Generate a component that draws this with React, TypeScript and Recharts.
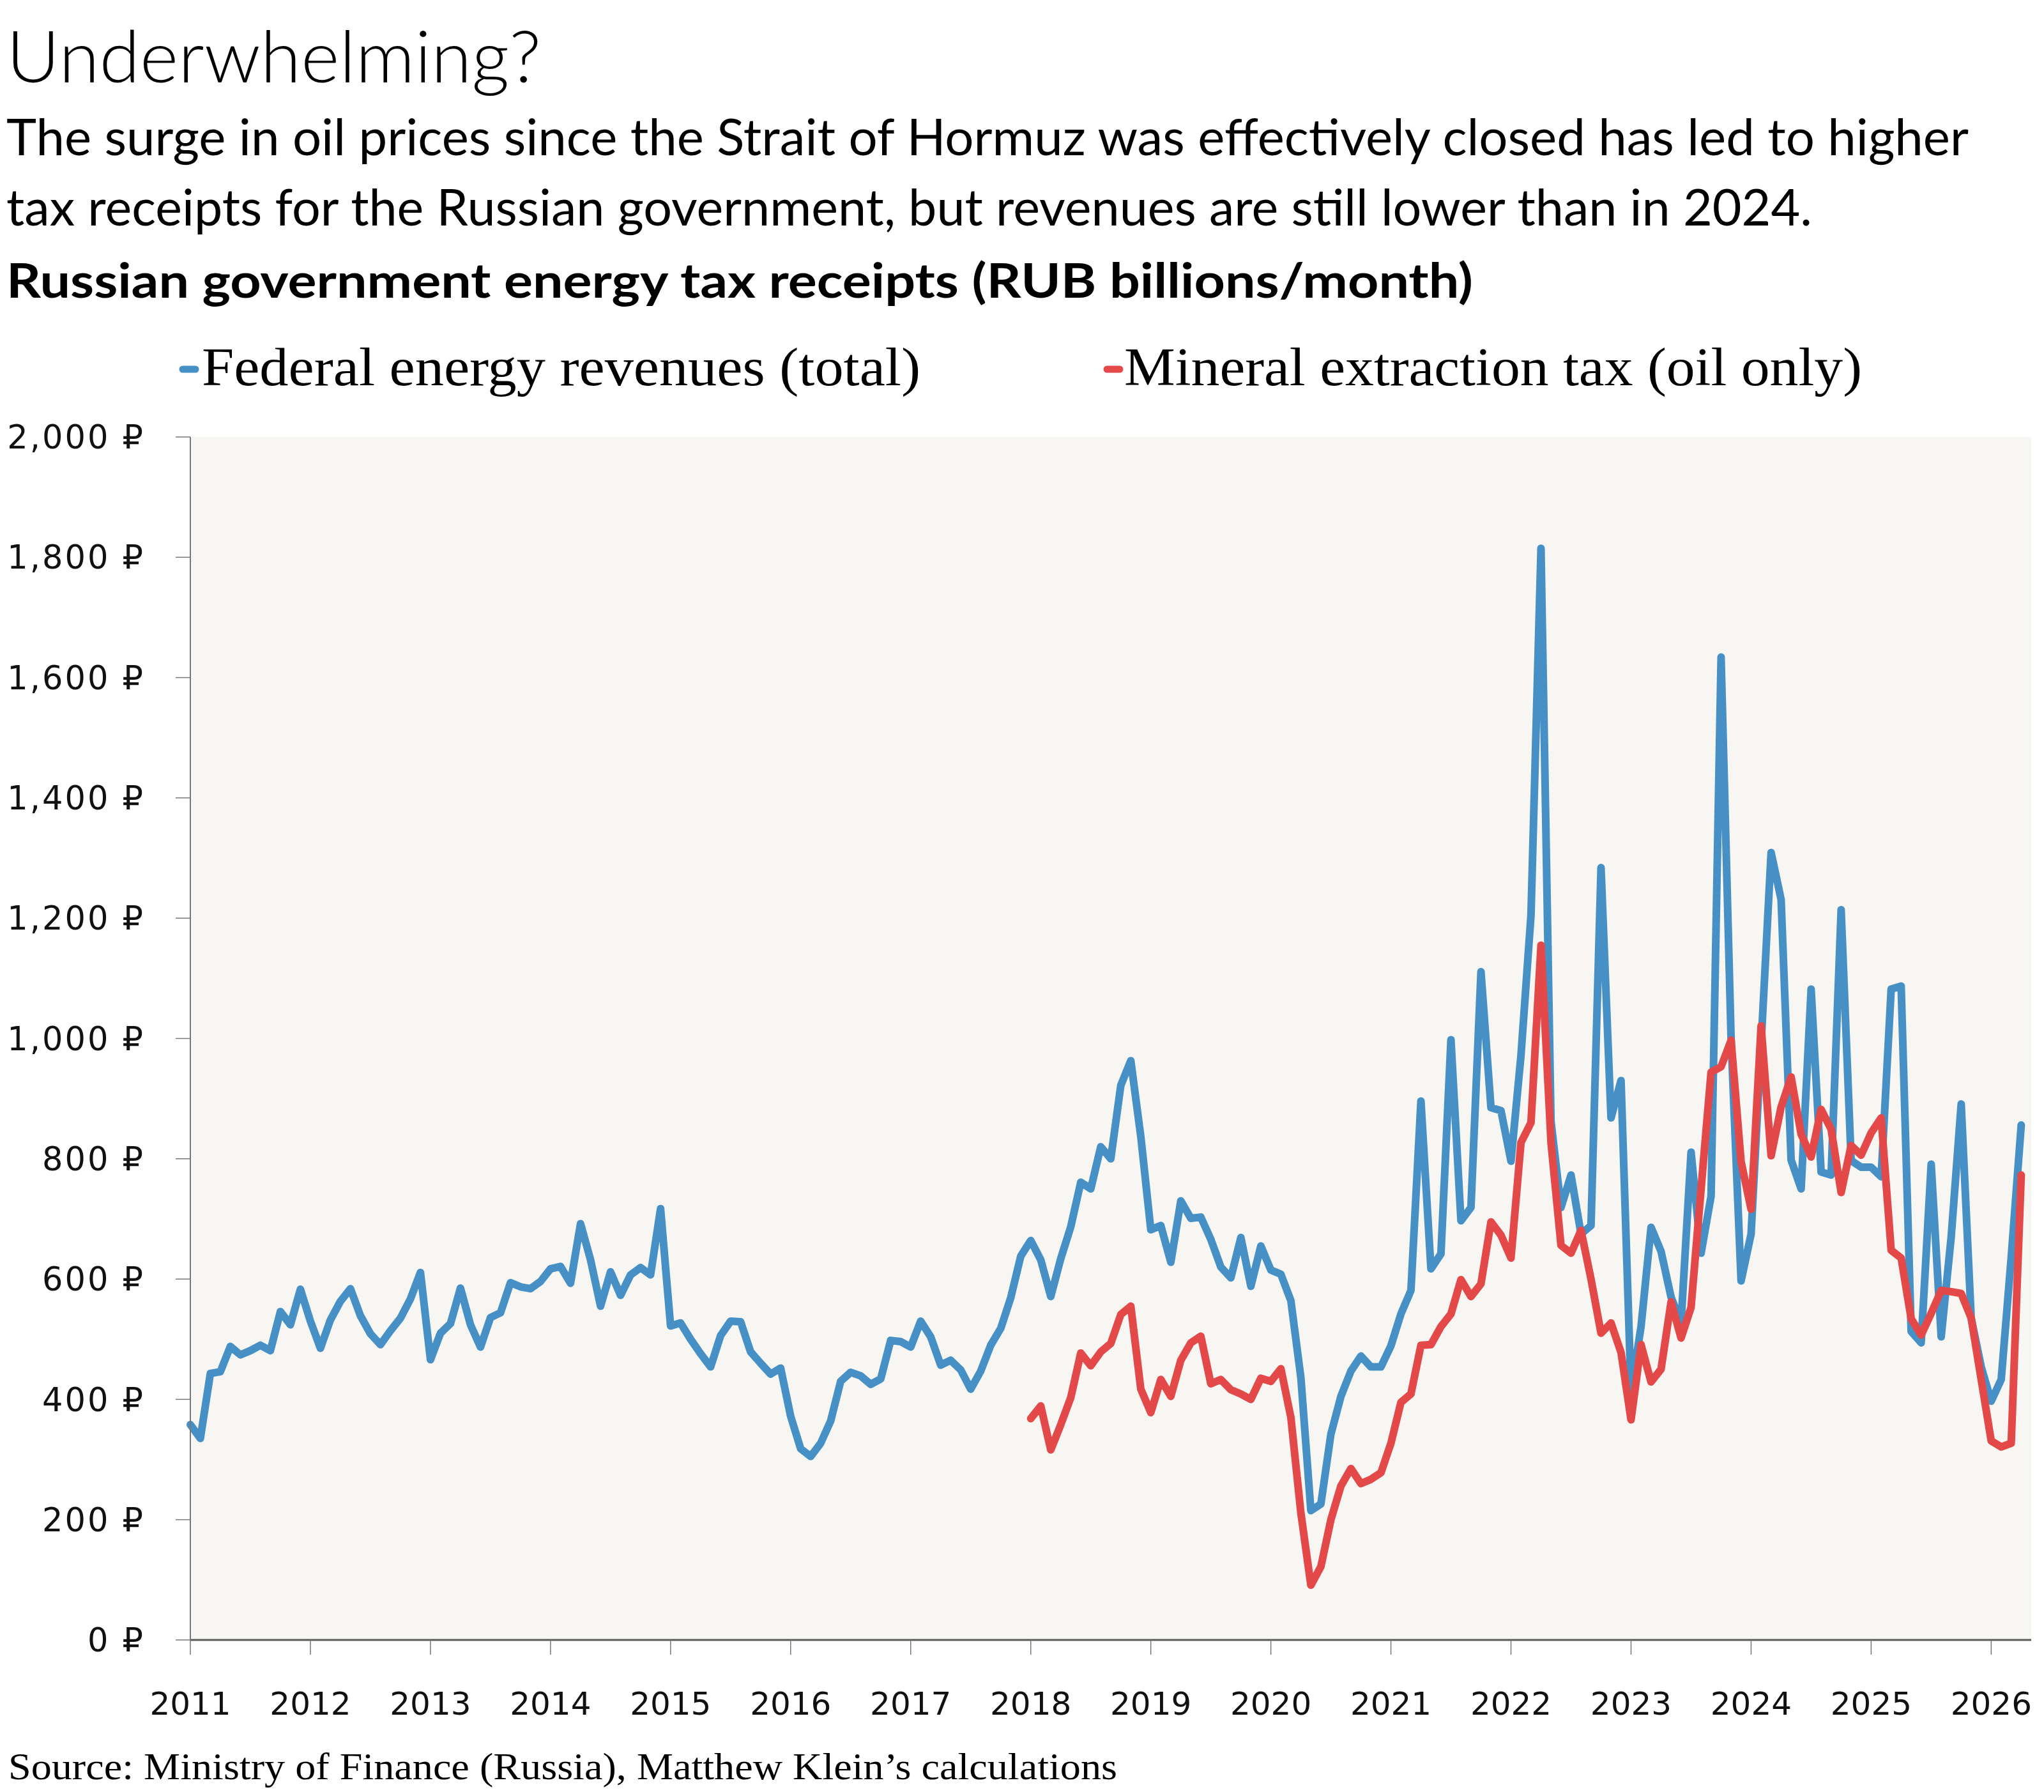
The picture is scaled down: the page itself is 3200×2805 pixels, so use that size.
import React from "react";
import { LineChart, Line, XAxis, YAxis, CartesianGrid } from "recharts";

// Monthly values, Jan 2011 onwards (RUB billions)
const FEDERAL = [
  358, 335, 443, 446, 488, 474, 481, 490, 481, 546, 524, 583, // 2011
  530, 485, 532, 563, 584, 539, 509, 491, 514, 535, 567, 611, // 2012
  466, 510, 526, 585, 524, 487, 536, 544, 594, 587, 584, 596, // 2013
  617, 621, 593, 692, 632, 555, 612, 573, 607, 619, 607, 717, // 2014
  522, 527, 500, 476, 454, 506, 530, 529, 479, 460, 442, 452, // 2015
  372, 318, 305, 327, 364, 430, 445, 439, 425, 434, 498, 496, // 2016
  487, 530, 504, 457, 465, 449, 417, 447, 490, 518, 569, 638, // 2017
  664, 632, 571, 634, 687, 761, 750, 820, 800, 922, 963, 837, // 2018
  682, 689, 628, 730, 701, 703, 666, 620, 602, 669, 588, 655, // 2019
  615, 608, 564, 436, 215, 226, 342, 405, 447, 472, 454, 454, // 2020
  489, 542, 581, 896, 617, 642, 998, 697, 719, 1111, 885, 880, // 2021
  796, 972, 1205, 1815, 862, 719, 773, 675, 689, 1284, 868, 930, // 2022
  413, 521, 686, 646, 570, 527, 811, 643, 738, 1634, 1000, 597, // 2023
  675, 990, 1309, 1231, 798, 750, 1082, 778, 773, 1214, 797, 786, // 2024
  786, 770, 1082, 1087, 513, 494, 791, 504, 670, 891, 535, 454, // 2025
  397, 433, 636, 856, // 2026
];

// Mineral extraction tax (oil only), starts Jan 2018
const MET_START = 84;
const MET = [
  368, 389, 316, 358, 403, 477, 456, 479, 493, 541, 555, 417, // 2018
  378, 433, 405, 465, 494, 505, 426, 433, 416, 409, 400, 435, // 2019
  430, 451, 370, 211, 91, 122, 200, 256, 285, 260, 267, 278, // 2020
  327, 395, 409, 490, 491, 521, 542, 599, 571, 592, 695, 673, // 2021
  635, 827, 860, 1155, 827, 656, 643, 681, 600, 510, 527, 478, // 2022
  366, 491, 429, 450, 562, 502, 553, 750, 944, 953, 997, 795, // 2023
  716, 1021, 805, 886, 936, 841, 803, 882, 849, 744, 822, 806, // 2024
  843, 868, 648, 635, 534, 507, 543, 581, 579, 576, 535, 433, // 2025
  331, 321, 327, 773, // 2026
];

const YEARS = ["2011", "2012", "2013", "2014", "2015", "2016", "2017", "2018",
  "2019", "2020", "2021", "2022", "2023", "2024", "2025", "2026"];
const Y_TICKS = [0, 200, 400, 600, 800, 1000, 1200, 1400, 1600, 1800, 2000];

const BLUE = "#4690c6";
const RED = "#e4494a";

const data = FEDERAL.map((v, i) => ({
  i,
  federal: v,
  met: i >= MET_START ? MET[i - MET_START] : null,
}));

const sans = "Lato, 'Open Sans', sans-serif";
const serif = "'Liberation Serif', 'DejaVu Serif', serif";
const tickFont = "'DejaVu Sans', 'Noto Sans', sans-serif";

export default function App() {
  return (
    <div style={{ position: "absolute", left: 0, top: 0, width: 3200, height: 2805, background: "#fff" }}>
      <svg width={3200} height={2805} style={{ position: "absolute", left: 0, top: 0 }}>
        <text x={10} y={129} fontFamily={sans} fontWeight={300} fontSize={112}
          textLength={837} lengthAdjust="spacingAndGlyphs">Underwhelming?</text>
        <text x={10} y={243} fontFamily={sans} fontSize={80}
          textLength={3072} lengthAdjust="spacingAndGlyphs">
          The surge in oil prices since the Strait of Hormuz was effectively closed has led to higher
        </text>
        <text x={10} y={353} fontFamily={sans} fontSize={80}
          textLength={2827} lengthAdjust="spacingAndGlyphs">
          tax receipts for the Russian government, but revenues are still lower than in 2024.
        </text>
        <text x={10} y={466} fontFamily={sans} fontWeight={700} fontSize={74}
          textLength={2296} lengthAdjust="spacingAndGlyphs">
          Russian government energy tax receipts (RUB billions/month)
        </text>

        {/* legend */}
        <line x1={286} y1={578} x2={306} y2={578} stroke={BLUE} strokeWidth={11} strokeLinecap="round" />
        <text x={316} y={603} fontFamily={serif} fontSize={85}
          textLength={1125} lengthAdjust="spacingAndGlyphs">Federal energy revenues (total)</text>
        <line x1={1733} y1={578} x2={1753} y2={578} stroke={RED} strokeWidth={11} strokeLinecap="round" />
        <text x={1760} y={603} fontFamily={serif} fontSize={85}
          textLength={1155} lengthAdjust="spacingAndGlyphs">Mineral extraction tax (oil only)</text>

        <text x={13} y={2785} fontFamily={serif} fontSize={60}
          textLength={1736} lengthAdjust="spacingAndGlyphs">
          Source: Ministry of Finance (Russia), Matthew Klein’s calculations
        </text>
      </svg>

      <div style={{ position: "absolute", left: 0, top: 600 }}>
        <LineChart width={3200} height={2140} data={data}
          margin={{ top: 84, right: 20, bottom: 23, left: 8 }}>
          <CartesianGrid fill="#f7f6f2" horizontal={false} vertical={false} stroke="none" />
          <XAxis
            dataKey="i"
            type="number"
            domain={[0, 184]}
            ticks={YEARS.map((_, k) => k * 12)}
            interval={0}
            tickFormatter={(v) => YEARS[v / 12]}
            height={150}
            tickSize={23}
            tickMargin={58}
            axisLine={{ stroke: "#5a5a5a", strokeWidth: 3 }}
            tickLine={{ stroke: "#777", strokeWidth: 1.5 }}
            tick={{ fontSize: 50, fill: "#111", fontFamily: tickFont }}
          />
          <YAxis
            domain={[0, 2000]}
            ticks={Y_TICKS}
            interval={0}
            tickFormatter={(v) => `${Number(v).toLocaleString("en-US")} ₽`}
            width={290}
            tickSize={23}
            tickMargin={48}
            axisLine={{ stroke: "#777", strokeWidth: 2 }}
            tickLine={{ stroke: "#777", strokeWidth: 1.5 }}
            tick={{ fontSize: 51, fill: "#111", fontFamily: tickFont, letterSpacing: 3 }}
          />
          <Line type="linear" dataKey="federal" stroke={BLUE} strokeWidth={12}
            strokeLinejoin="round" strokeLinecap="round" dot={false} isAnimationActive={false} />
          <Line type="linear" dataKey="met" stroke={RED} strokeWidth={12}
            strokeLinejoin="round" strokeLinecap="round" dot={false} isAnimationActive={false} />
        </LineChart>
      </div>
    </div>
  );
}
